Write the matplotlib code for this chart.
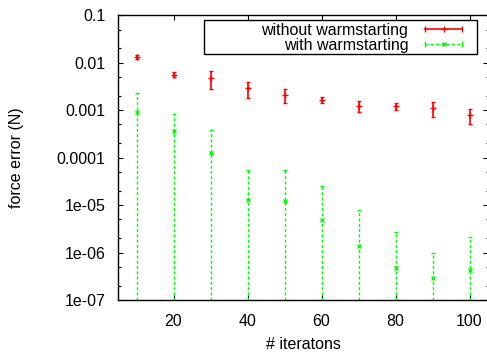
import matplotlib
import matplotlib.pyplot as plt
from matplotlib.legend_handler import HandlerLine2D, HandlerTuple
from matplotlib.lines import Line2D
from matplotlib.patches import Rectangle
from matplotlib.ticker import LogLocator, NullFormatter, FixedLocator

matplotlib.use('Agg')

iterations = [10, 20, 30, 40, 50, 60, 70, 80, 90, 100]

# without warmstarting: mean and std of the force error
cold_mean = [0.0131, 0.0056, 0.0047, 0.0029, 0.0021, 0.00164, 0.00123, 0.00123, 0.00111, 0.00079]
cold_std = [0.00125, 0.0007, 0.0019, 0.00105, 0.00065, 0.00025, 0.0003, 0.0002, 0.00038, 0.00027]

# with warmstarting
warm_mean = [0.0009, 0.000366, 0.000123, 1.26e-5, 1.23e-5, 4.8e-6, 1.4e-6, 4.7e-7, 2.9e-7, 4.2e-7]
warm_std = [0.00143, 0.00045, 0.00026, 4.3e-5, 4.2e-5, 2.1e-5, 6.6e-6, 2.2e-6, 6.9e-7, 1.7e-6]

labels = ["without warmstarting", "with warmstarting"]
y_ticks = [1e-7, 1e-6, 1e-5, 1e-4, 1e-3, 1e-2, 1e-1]
y_tick_labels = ["1e-07", "1e-06", "1e-05", "0.0001", "0.001", "0.01", "0.1"]
x_ticks = [20, 40, 60, 80, 100]

plt.rcParams['font.family'] = ['Liberation Sans', 'DejaVu Sans']
fs = 11.5

W, H = 487, 352
fig = plt.figure(figsize=(W / 100, H / 100), dpi=100)
# axes box in pixels: left 118, right 488, top 15.3, bottom 300
ax = fig.add_axes([118 / W, (H - 300) / H, (488 - 118) / W, (300 - 15.3) / H])

red = '#ff0000'
green = '#00ff00'
dash = (0, (2.2, 1.6))

ax.errorbar(iterations, cold_mean, yerr=cold_std, fmt='+', color=red, ecolor=red,
            elinewidth=1.2, capsize=1.6, capthick=1.1, markersize=4, markeredgewidth=1)
eb = ax.errorbar(iterations, warm_mean, yerr=warm_std, fmt='x', color=green, ecolor=green,
                 elinewidth=1, capsize=1.6, capthick=1, markersize=3.5, markeredgewidth=1)
for col in eb[2]:
    col.set_linestyle(dash)

ax.set_yscale('log', nonpositive='clip')
ax.set_xlim(5, 105)
ax.set_ylim(1e-7, 0.1)

ax.yaxis.set_major_locator(FixedLocator(y_ticks))
ax.set_yticklabels(y_tick_labels)
ax.yaxis.set_minor_locator(LogLocator(base=10, subs=(2.0, 5.0)))
ax.yaxis.set_minor_formatter(NullFormatter())
ax.set_xticks(x_ticks)

ax.tick_params(which='both', direction='in', top=True, right=True, labelsize=fs, color='black')
ax.tick_params(which='major', length=3.4, width=0.8)
ax.tick_params(which='minor', length=1.8, width=0.8)
ax.tick_params(axis='y', pad=9)
ax.tick_params(axis='x', pad=10)

for s in ax.spines.values():
    s.set_linewidth(1)

ax.set_xlabel("# iteratons", fontsize=fs, labelpad=6)
ax.set_ylabel("force error (N)", fontsize=fs, labelpad=23.5)

# legend samples like gnuplot: bar with caps and marker in the middle
cold_line = Line2D([], [], color=red, lw=1.2, marker='|', markersize=5, markeredgewidth=1)
cold_mark = Line2D([], [], color=red, lw=0, marker='+', markersize=4, markeredgewidth=1)
warm_line = Line2D([], [], color=green, lw=1, ls=dash, marker='|', markersize=5, markeredgewidth=1)
warm_mark = Line2D([], [], color=green, lw=0, marker='x', markersize=3.5, markeredgewidth=1)
hmap = {
    cold_line: HandlerLine2D(numpoints=2), cold_mark: HandlerLine2D(numpoints=1),
    warm_line: HandlerLine2D(numpoints=2), warm_mark: HandlerLine2D(numpoints=1),
    tuple: HandlerTuple(ndivide=1, pad=0),
}
ax.legend([(cold_line, cold_mark), (warm_line, warm_mark)], labels,
          handler_map=hmap, loc='upper right', bbox_to_anchor=(466.7 / W, 1 - 23 / H),
          bbox_transform=fig.transFigure, frameon=False, markerfirst=False,
          fontsize=fs, borderpad=0, borderaxespad=0, handlelength=2.9,
          handletextpad=0.75, labelspacing=0.0)
fig.patches.append(Rectangle((204 / W, 1 - 54 / H), (477.3 - 204) / W, 34 / H,
                             transform=fig.transFigure, fill=False, edgecolor='black',
                             linewidth=1, zorder=5))

fig.savefig('out.png', dpi=100)
